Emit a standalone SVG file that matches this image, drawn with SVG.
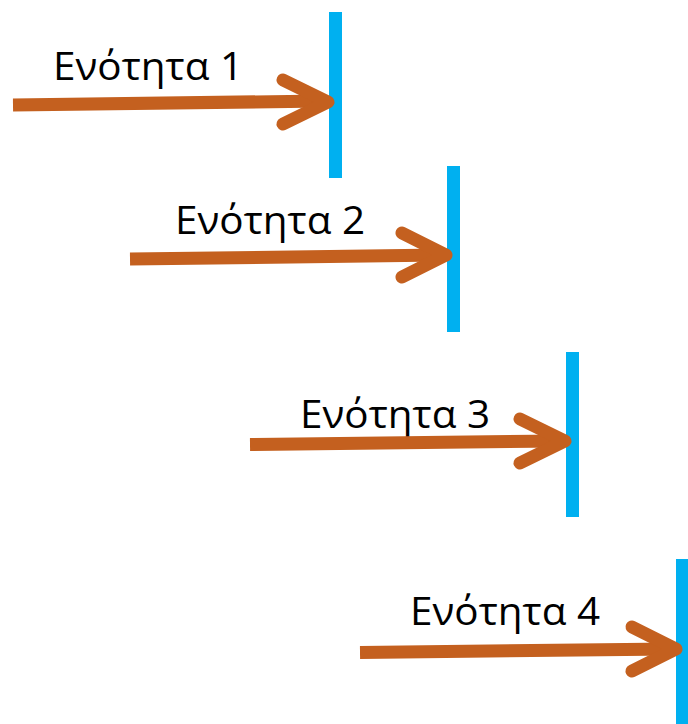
<svg xmlns="http://www.w3.org/2000/svg" width="688" height="724" viewBox="0 0 688 724">
<style>
.bar{fill:#00B0F0}
.shaft{stroke:#C4601F;stroke-width:13;fill:none}
.head{stroke:#C4601F;stroke-width:13;fill:none;stroke-linecap:round;stroke-linejoin:round}
.lbl{font-family:"Open Sans","Noto Sans",sans-serif;font-size:38px;fill:#000}
</style>
<rect width="688" height="724" fill="#fff"/>
<g id="bar1"><rect class="bar" x="329" y="12" width="13" height="166"/></g>
<g id="bar2"><rect class="bar" x="447" y="166" width="13" height="166"/></g>
<g id="bar3"><rect class="bar" x="566" y="352" width="13" height="165"/></g>
<g id="bar4"><rect class="bar" x="676" y="559" width="13" height="165"/></g>
<g id="label1"><text class="lbl" x="53" y="80" textLength="190" lengthAdjust="spacingAndGlyphs">Ενότητα 1</text></g>
<g id="label2"><text class="lbl" x="175" y="234" textLength="190" lengthAdjust="spacingAndGlyphs">Ενότητα 2</text></g>
<g id="label3"><text class="lbl" x="300" y="428" textLength="190" lengthAdjust="spacingAndGlyphs">Ενότητα 3</text></g>
<g id="label4"><text class="lbl" x="410" y="625" textLength="190" lengthAdjust="spacingAndGlyphs">Ενότητα 4</text></g>
<g id="connectors">
<path class="shaft" d="M13 105 L324 101"/>
<path class="head" d="M283 80 L328 102 L283 124"/>
<path class="shaft" d="M130 259 L442 255"/>
<path class="head" d="M402 233 L446 255 L402 277"/>
<path class="shaft" d="M250 444.5 L561 441"/>
<path class="head" d="M520 419 L565 441 L520 463"/>
<path class="shaft" d="M360 652.5 L672 649"/>
<path class="head" d="M632 627 L676 649 L632 671"/>
</g>
</svg>
